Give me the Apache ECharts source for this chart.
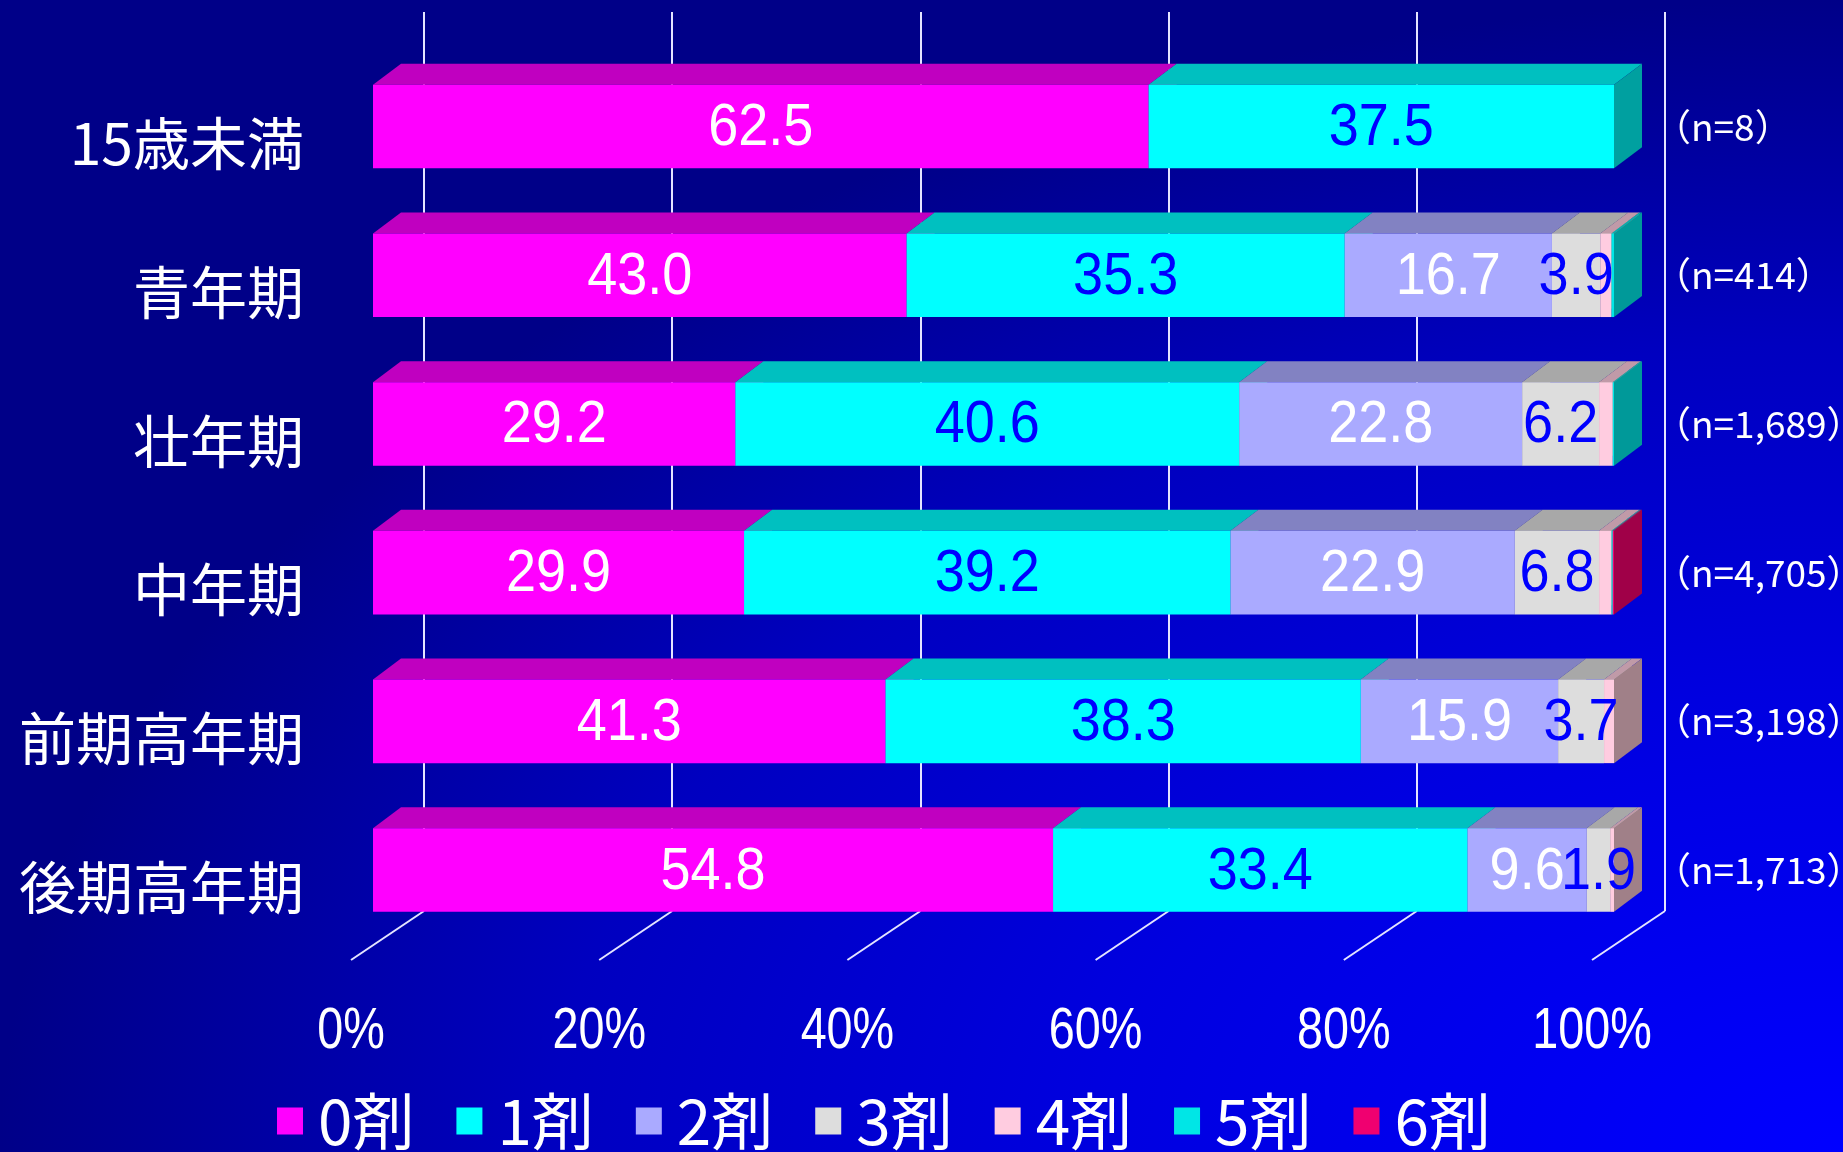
<!DOCTYPE html>
<html><head><meta charset="utf-8">
<script src="https://cdn.jsdelivr.net/npm/echarts@6/dist/echarts.min.js"></script>
<style>html,body{margin:0;padding:0;background:#000088;}#c{width:1843px;height:1152px;}</style>
</head><body><div id="c"></div>
<script>
// ---- data ----
const categories = ['15歳未満', '青年期', '壮年期', '中年期', '前期高年期', '後期高年期'];
const nLabels = ['（n=8）', '（n=414）', '（n=1,689）', '（n=4,705）', '（n=3,198）', '（n=1,713）'];
const seriesNames = ['0剤', '1剤', '2剤', '3剤', '4剤', '5剤', '6剤'];
const s0 = [62.5, 43.0, 29.2, 29.9, 41.3, 54.8];
const s1 = [37.5, 35.3, 40.6, 39.2, 38.3, 33.4];
const s2 = [0, 16.7, 22.8, 22.9, 15.9, 9.6];
const s3 = [0, 3.9, 6.2, 6.8, 3.7, 1.9];
const s4 = [0, 0.9, 1.1, 1.0, 0.8, 0.3];
const s5 = [0, 0.2, 0.1, 0.1, 0, 0];
const s6 = [0, 0, 0, 0.1, 0, 0];
const xTicks = [0, 20, 40, 60, 80, 100];
const xTickLabels = ['0%', '20%', '40%', '60%', '80%', '100%'];

// ---- styles ----
const allSeries = [s0, s1, s2, s3, s4, s5, s6];
const COLORS = [
  {front: '#FF00FF', top: '#C000C0', side: '#990099', label: '#FFFFFF'},
  {front: '#00FFFF', top: '#00C0C0', side: '#00A0A0', label: '#0000FF'},
  {front: '#AAAAFF', top: '#8282C2', side: '#666699', label: '#FFFFFF'},
  {front: '#DDDDDD', top: '#A8A8A8', side: '#858585', label: '#0000FF'},
  {front: '#FFCCE0', top: '#C09AA8', side: '#A08088', label: '#0000FF'},
  {front: '#00E6E6', top: '#00B0B0', side: '#009999', label: '#0000FF'},
  {front: '#F00070', top: '#B80056', side: '#A00048', label: '#FFFFFF'}
];
const BAR_RATIO = 0.562;
const DX = 28, DY = -21;      // bar depth
const FX = -73, FY = 49;      // floor depth
const LABELED = 4;            // first 4 series have value labels

const chart = echarts.init(document.getElementById('c'), null, {renderer: 'canvas'});

function makeRender(si) {
  return function (params, api) {
    const start = api.value(0), end = api.value(1), cat = api.value(2), val = api.value(3);
    if (!(val > 0)) return;
    const p0 = api.coord([start, cat]);
    const p1 = api.coord([end, cat]);
    const h = api.size([0, 1])[1] * BAR_RATIO;
    const x0 = p0[0], x1 = p1[0], yc = p0[1];
    const yt = yc - h / 2, yb = yc + h / 2;
    const c = COLORS[si];
    const children = [
      {type: 'polygon', shape: {points: [[x0, yt], [x1, yt], [x1 + DX, yt + DY], [x0 + DX, yt + DY]]}, style: {fill: c.top}},
      {type: 'polygon', shape: {points: [[x1, yt], [x1 + DX, yt + DY], [x1 + DX, yb + DY], [x1, yb]]}, style: {fill: c.side}},
      {type: 'rect', shape: {x: x0, y: yt, width: x1 - x0, height: h}, style: {fill: c.front}}
    ];
    if (si < LABELED) {
      children.push({
        type: 'text', x: (x0 + x1) / 2, y: yc + 2, scaleX: 0.9, z2: 100,
        style: {text: val.toFixed(1), fill: c.label, fontSize: 60, fontFamily: 'Liberation Sans',
                align: 'center', verticalAlign: 'middle'}
      });
    }
    return {type: 'group', children: children};
  };
}

const barSeries = allSeries.map(function (arr, si) {
  const data = arr.map(function (v, ci) {
    let start = 0;
    for (let k = 0; k < si; k++) start += allSeries[k][ci];
    return [start, start + v, ci, v];
  });
  return {
    type: 'custom', name: seriesNames[si], xAxisIndex: 1, yAxisIndex: 1,
    itemStyle: {color: COLORS[si].front},
    renderItem: makeRender(si), encode: {x: [0, 1], y: 2}, data: data, z: 3
  };
});

const floorSeries = {
  type: 'custom', xAxisIndex: 0, yAxisIndex: 0, silent: true, z: 1,
  encode: {x: 0, y: 1},
  data: xTicks.map(function (v, i) { return [v, 0, i]; }),
  renderItem: function (params, api) {
    const p = api.coord([api.value(0), 0]);
    const i = api.value(2);
    return {type: 'group', children: [
      {type: 'line', shape: {x1: p[0], y1: p[1], x2: p[0] + FX, y2: p[1] + FY},
       style: {stroke: '#E4E4FF', lineWidth: 2}},
      {type: 'text', x: p[0] + FX, y: p[1] + FY + 72, scaleX: 0.82,
       style: {text: xTickLabels[i], fill: '#FFFFFF', fontSize: 57, fontFamily: 'Liberation Sans',
               align: 'center', verticalAlign: 'middle'}}
    ]};
  }
};

const bg = new echarts.graphic.RadialGradient(1, 1, 1, [
  {offset: 0, color: '#0000FF'},
  {offset: 0.4, color: '#0000E0'},
  {offset: 0.7, color: '#0000C0'},
  {offset: 1, color: '#000088'}
]);

chart.setOption({
  animation: false,
  backgroundColor: '#000088',
  graphic: [{
    type: 'rect', x: 0, y: 0, scaleX: 1843 / 1152, silent: true, z: -100,
    shape: {x: 0, y: 0, width: 1152, height: 1152}, style: {fill: bg}
  }],
  grid: [
    {left: 424, width: 1241, top: 12, height: 899, containLabel: false, outerBoundsMode: 'none'},
    {left: 373, width: 1241, top: 52.2, height: 892.2, containLabel: false, outerBoundsMode: 'none'}
  ],
  xAxis: [
    {gridIndex: 0, type: 'value', min: 0, max: 100, interval: 20,
     axisLine: {show: false}, axisTick: {show: false}, axisLabel: {show: false},
     splitLine: {show: true, lineStyle: {color: '#E4E4FF', width: 2}}},
    {gridIndex: 1, type: 'value', min: 0, max: 100, interval: 20,
     axisLine: {show: false}, axisTick: {show: false}, axisLabel: {show: false}, splitLine: {show: false}}
  ],
  yAxis: [
    {gridIndex: 0, type: 'value', min: 0, max: 1, show: false},
    {gridIndex: 1, type: 'category', inverse: true, data: categories,
     axisLine: {show: false}, axisTick: {show: false},
     axisLabel: {color: '#FFFFFF', fontSize: 57, fontFamily: 'Noto Sans CJK JP', margin: 69,
                 verticalAlign: 'top', lineHeight: 34}},
    {gridIndex: 1, type: 'category', inverse: true, position: 'right', data: nLabels,
     axisLine: {show: false}, axisTick: {show: false},
     axisLabel: {color: '#FFFFFF', fontSize: 37, fontFamily: 'Noto Sans CJK JP', margin: 40}}
  ],
  legend: {
    data: seriesNames, left: 277, top: 1090, padding: 0, icon: 'rect', itemWidth: 26, itemHeight: 27, itemGap: 42,
    textStyle: {color: '#FFFFFF', fontSize: 62, fontFamily: 'Noto Sans CJK JP', padding: [0, 0, 0, 10]}
  },
  series: [floorSeries].concat(barSeries)
});
</script>
</body></html>
